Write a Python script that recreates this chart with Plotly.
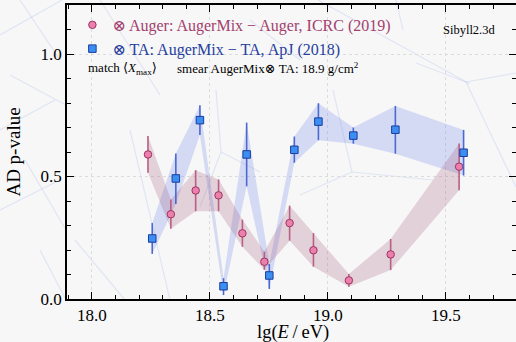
import plotly.graph_objects as go

# ---------------- data ----------------
auger_lgE = [18.238, 18.335, 18.44, 18.537, 18.638, 18.731, 18.838, 18.939, 19.089, 19.266, 19.556]
auger_p = [0.590, 0.346, 0.443, 0.423, 0.268, 0.152, 0.310, 0.199, 0.076, 0.182, 0.540]
auger_hi = [0.665, 0.406, 0.526, 0.488, 0.324, 0.193, 0.381, 0.269, 0.102, 0.245, 0.635]
auger_lo = [0.515, 0.287, 0.358, 0.358, 0.213, 0.119, 0.238, 0.132, 0.050, 0.118, 0.444]

ta_lgE = [18.256, 18.356, 18.458, 18.558, 18.656, 18.752, 18.858, 18.960, 19.108, 19.286, 19.575]
ta_p = [0.247, 0.492, 0.730, 0.052, 0.590, 0.096, 0.609, 0.724, 0.667, 0.691, 0.597]
ta_hi = [0.310, 0.594, 0.791, 0.085, 0.720, 0.143, 0.663, 0.799, 0.700, 0.788, 0.690]
ta_lo = [0.184, 0.388, 0.669, 0.016, 0.460, 0.041, 0.556, 0.648, 0.634, 0.593, 0.504]

x_ticks = [18.0, 18.5, 19.0, 19.5]
x_ticklabels = ["18.0", "18.5", "19.0", "19.5"]
y_ticks = [0.0, 0.5, 1.0]
y_ticklabels = ["0.0", "0.5", "1.0"]

auger_name = "⊗ Auger: AugerMix − Auger, ICRC (2019)"
ta_name = "⊗ TA: AugerMix − TA, ApJ (2018)"
x_title = "lg(<i>E</i>\u2009/\u2009eV)"
y_title = "AD p-value"

# ---------------- styling ----------------
SERIF = "Liberation Serif, Times New Roman, DejaVu Serif, serif"
BG = "#f7f7f7"
PINK_TXT = "#a3406e"
BLUE_TXT = "#26409e"
PINK_FILL = "#ec80ad"
PINK_EDGE = "#9c3462"
PINK_ERR = "#b85f82"
BLUE_FILL = "#3b8ff2"
BLUE_EDGE = "#1b3c9c"
BLUE_ERR = "#4a6ad2"
PINK_BAND = "rgba(150,60,100,0.20)"
BLUE_BAND = "rgba(90,120,230,0.22)"

ML, MR, MT, MB = 67, 0, 5, 43
W, H = 516, 342
PW, PH = W - ML - MR, H - MT - MB

fig = go.Figure()

# bands
fig.add_trace(go.Scatter(
    x=ta_lgE + ta_lgE[::-1], y=ta_hi + ta_lo[::-1],
    fill="toself", fillcolor=BLUE_BAND, line=dict(width=0),
    mode="lines", showlegend=False, hoverinfo="skip"))
fig.add_trace(go.Scatter(
    x=auger_lgE + auger_lgE[::-1], y=auger_hi + auger_lo[::-1],
    fill="toself", fillcolor=PINK_BAND, line=dict(width=0),
    mode="lines", showlegend=False, hoverinfo="skip"))

# points with error bars
fig.add_trace(go.Scatter(
    x=auger_lgE, y=auger_p, mode="markers",
    name=f'<span style="color:{PINK_TXT}">{auger_name}</span>',
    marker=dict(symbol="circle", size=7.5, color=PINK_FILL,
                line=dict(color=PINK_EDGE, width=1)),
    error_y=dict(type="data", symmetric=False,
                 array=[h - p for h, p in zip(auger_hi, auger_p)],
                 arrayminus=[p - l for l, p in zip(auger_lo, auger_p)],
                 color=PINK_ERR, thickness=1.6, width=0)))
fig.add_trace(go.Scatter(
    x=ta_lgE, y=ta_p, mode="markers",
    name=f'<span style="color:{BLUE_TXT}">{ta_name}</span>',
    marker=dict(symbol="square", size=7.5, color=BLUE_FILL,
                line=dict(color=BLUE_EDGE, width=1)),
    error_y=dict(type="data", symmetric=False,
                 array=[h - p for h, p in zip(ta_hi, ta_p)],
                 arrayminus=[p - l for l, p in zip(ta_lo, ta_p)],
                 color=BLUE_ERR, thickness=1.6, width=0)))

# faint decorative background strokes (pixel coords of the page)
deco = [
    (0, 35, 62, 0), (10, 75, 66, 105), (0, 130, 55, 100), (20, 0, 60, 60),
    (25, 160, 66, 230), (0, 210, 60, 180), (40, 250, 66, 300),
    (100, 0, 160, 95), (130, 130, 170, 300), (216, 90, 221, 152),
    (221, 152, 200, 207), (221, 152, 260, 172), (318, 0, 470, 84),
    (396, 0, 403, 30), (333, 90, 352, 172), (352, 172, 433, 180),
    (352, 172, 300, 195), (416, 63, 466, 82), (466, 82, 516, 73),
    (466, 82, 516, 187), (75, 240, 125, 300), (250, 20, 300, 60),
]
for x0, y0, x1, y1 in deco:
    fig.add_shape(type="line", xref="paper", yref="paper",
                  x0=(x0 - ML) / PW, y0=(H - MB - y0) / PH,
                  x1=(x1 - ML) / PW, y1=(H - MB - y1) / PH,
                  line=dict(color="rgba(110,140,225,0.17)", width=1.2),
                  layer="below")

# annotations
fig.add_annotation(xref="paper", yref="paper", x=(86 - ML) / PW, y=(H - MB - 68) / PH,
                   text="match ⟨<i>X</i><sub>max</sub>⟩", showarrow=False,
                   xanchor="left", yanchor="middle",
                   font=dict(family=SERIF, size=13, color="black"))
fig.add_annotation(xref="paper", yref="paper", x=(175 - ML) / PW, y=(H - MB - 68) / PH,
                   text="smear AugerMix⊗ TA: 18.9 g/cm<sup>2</sup>", showarrow=False,
                   xanchor="left", yanchor="middle",
                   font=dict(family=SERIF, size=13, color="black"))
fig.add_annotation(xref="paper", yref="paper", x=(441 - ML) / PW, y=(H - MB - 30) / PH,
                   text="Sibyll2.3d", showarrow=False,
                   xanchor="left", yanchor="middle",
                   font=dict(family=SERIF, size=12.5, color="black"))
# x-axis title placed below tick labels
fig.add_annotation(xref="paper", yref="paper", x=(293 - ML) / PW, y=(H - MB - 332) / PH,
                   text=x_title, showarrow=False,
                   xanchor="center", yanchor="middle",
                   font=dict(family=SERIF, size=18.5, color="black"))

axis_common = dict(
    showline=True, linecolor="black", linewidth=1.5, mirror="allticks",
    ticks="inside", ticklen=7, tickwidth=1.2, tickcolor="black",
    showgrid=True, gridcolor="#dcdcdc", griddash="dot", gridwidth=1,
    zeroline=False, automargin=False,
    tickfont=dict(family=SERIF, size=17, color="black"),
)

fig.update_xaxes(
    range=[17.895, 19.797], tickvals=x_ticks, ticktext=x_ticklabels,
    minor=dict(dtick=0.1, ticklen=4, tickcolor="black", ticks="inside", showgrid=False),
    **axis_common)
fig.update_yaxes(
    range=[0, 1.2], tickvals=y_ticks, ticktext=y_ticklabels,
    minor=dict(dtick=0.1, ticklen=4, tickcolor="black", ticks="inside", showgrid=False),
    title=dict(text=y_title, font=dict(family=SERIF, size=19, color="black")),
    **axis_common)

fig.update_layout(
    width=W, height=H,
    margin=dict(l=ML, r=MR, t=MT, b=MB),
    paper_bgcolor=BG, plot_bgcolor=BG,
    font=dict(family=SERIF, color="black"),
    legend=dict(x=0.012, y=0.99, xanchor="left", yanchor="top",
                bgcolor="rgba(0,0,0,0)", font=dict(family=SERIF, size=16),
                itemwidth=30, tracegroupgap=0),
)

fig.write_html("out.html")
